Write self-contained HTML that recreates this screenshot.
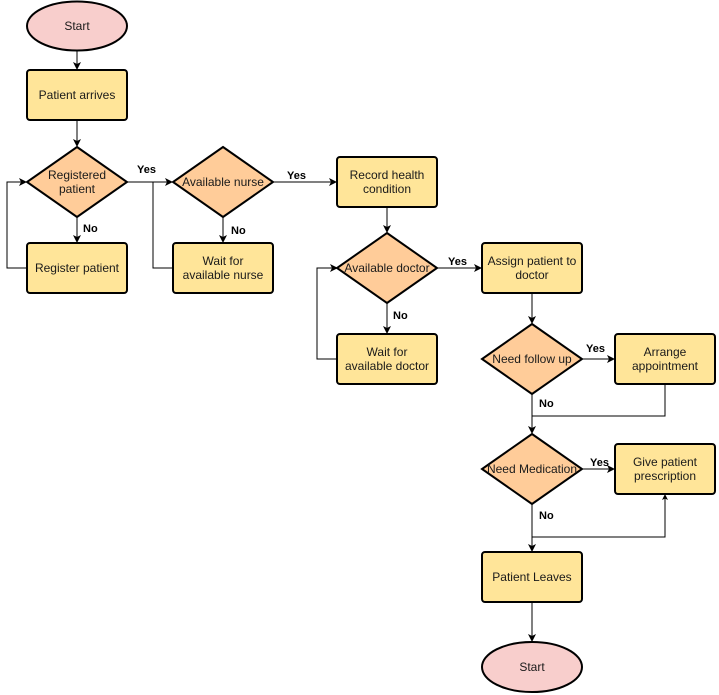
<!DOCTYPE html>
<html><head><meta charset="utf-8"><style>
html,body{margin:0;padding:0;background:#fff;}
svg{display:block;}
text{font-family:"Liberation Sans",Arial,sans-serif;font-size:12px;fill:#1a1a1a;}
.lb{font-weight:bold;fill:#000;font-size:11px;}
</style></head><body>
<svg width="719" height="695" viewBox="0 0 719 695" xmlns="http://www.w3.org/2000/svg">
<defs>
<marker id="a" markerWidth="8" markerHeight="8" refX="7" refY="4" orient="auto" markerUnits="userSpaceOnUse">
<path d="M0,0 L8,4 L0,8 L2,4 Z" fill="#000"/>
</marker>
<marker id="s" markerWidth="6" markerHeight="6" refX="5" refY="3" orient="auto" markerUnits="userSpaceOnUse">
<path d="M0,0 L6,3 L0,6 L1.5,3 Z" fill="#000"/>
</marker>
</defs>
<g fill="none" stroke="#000" stroke-width="1">
<path d="M77,51 V69" marker-end="url(#a)"/>
<path d="M77,120 V146" marker-end="url(#a)"/>
<path d="M77,217 V242" marker-end="url(#a)"/>
<path d="M27,268 H7 V182 H26" marker-end="url(#a)"/>
<path d="M128,182 H172" marker-end="url(#a)"/>
<path d="M173,268 H153 V182"/>
<path d="M223,217 V242" marker-end="url(#a)"/>
<path d="M274,182 H336" marker-end="url(#a)"/>
<path d="M387,207 V232" marker-end="url(#a)"/>
<path d="M387,303 V333" marker-end="url(#a)"/>
<path d="M337,359 H317 V268 H337" marker-end="url(#a)"/>
<path d="M437,268 H481" marker-end="url(#a)"/>
<path d="M532,293 V323" marker-end="url(#a)"/>
<path d="M582,359 H614" marker-end="url(#a)"/>
<path d="M532,394 V433" marker-end="url(#a)"/>
<path d="M665,384 V416 H532"/>
<path d="M582,469 H614" marker-end="url(#a)"/>
<path d="M532,504 V551" marker-end="url(#a)"/>
<path d="M532,537 H665 V495" marker-end="url(#s)"/>
<path d="M532,602 V641" marker-end="url(#a)"/>
</g>
<g stroke="#000" stroke-width="2">
<ellipse cx="77" cy="26" rx="50" ry="24.5" fill="#f8cecc"/>
<rect x="27" y="70" width="100" height="50" rx="3" fill="#ffe599"/>
<polygon points="77,147 127,182 77,217 27,182" fill="#ffcc99"/>
<rect x="27" y="243" width="100" height="50" rx="3" fill="#ffe599"/>
<polygon points="223,147 273,182 223,217 173,182" fill="#ffcc99"/>
<rect x="173" y="243" width="100" height="50" rx="3" fill="#ffe599"/>
<rect x="337" y="157" width="100" height="50" rx="3" fill="#ffe599"/>
<polygon points="387,233 437,268 387,303 337,268" fill="#ffcc99"/>
<rect x="337" y="334" width="100" height="50" rx="3" fill="#ffe599"/>
<rect x="482" y="243" width="100" height="50" rx="3" fill="#ffe599"/>
<polygon points="532,324 582,359 532,394 482,359" fill="#ffcc99"/>
<rect x="615" y="334" width="100" height="50" rx="3" fill="#ffe599"/>
<polygon points="532,434 582,469 532,504 482,469" fill="#ffcc99"/>
<rect x="615" y="444" width="100" height="50" rx="3" fill="#ffe599"/>
<rect x="482" y="552" width="100" height="50" rx="3" fill="#ffe599"/>
<ellipse cx="532" cy="667" rx="50" ry="25" fill="#f8cecc"/>
</g>
<g text-anchor="middle">
<text x="77" y="30">Start</text>
<text x="77" y="99">Patient arrives</text>
<text x="77" y="179">Registered</text>
<text x="77" y="193">patient</text>
<text x="77" y="272">Register patient</text>
<text x="223" y="186">Available nurse</text>
<text x="223" y="265">Wait for</text>
<text x="223" y="279">available nurse</text>
<text x="387" y="179">Record health</text>
<text x="387" y="193">condition</text>
<text x="387" y="272">Available doctor</text>
<text x="387" y="356">Wait for</text>
<text x="387" y="370">available doctor</text>
<text x="532" y="265">Assign patient to</text>
<text x="532" y="279">doctor</text>
<text x="532" y="363">Need follow up</text>
<text x="665" y="356">Arrange</text>
<text x="665" y="370">appointment</text>
<text x="532" y="473">Need Medication</text>
<text x="665" y="466">Give patient</text>
<text x="665" y="480">prescription</text>
<text x="532" y="581">Patient Leaves</text>
<text x="532" y="671">Start</text>
</g>
<g>
<text class="lb" x="137" y="173">Yes</text>
<text class="lb" x="83" y="232">No</text>
<text class="lb" x="231" y="234">No</text>
<text class="lb" x="287" y="179">Yes</text>
<text class="lb" x="448" y="265">Yes</text>
<text class="lb" x="393" y="319">No</text>
<text class="lb" x="586" y="352">Yes</text>
<text class="lb" x="539" y="407">No</text>
<text class="lb" x="590" y="466">Yes</text>
<text class="lb" x="539" y="519">No</text>
</g>
</svg>
</body></html>
